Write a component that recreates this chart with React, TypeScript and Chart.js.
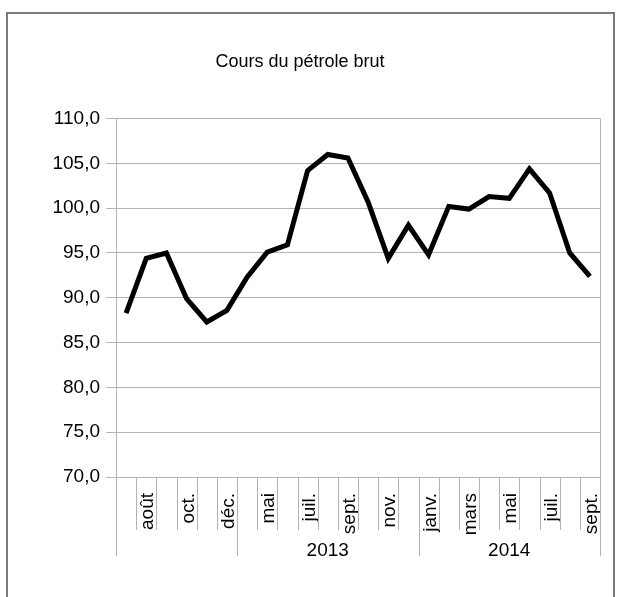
import React, { useEffect, useRef } from 'react';
import { Chart, registerables } from 'chart.js';

Chart.register(...registerables);

const title = 'Cours du pétrole brut';

const months = [
  'juil.', 'août', 'sept.', 'oct.', 'nov.', 'déc.',
  'avr.', 'mai', 'juin', 'juil.', 'août', 'sept.', 'oct.', 'nov.', 'déc.',
  'janv.', 'févr.', 'mars', 'avr.', 'mai', 'juin', 'juil.', 'août', 'sept.',
];

const yearLabels = ['', '2013', '2014'];
const yearSpans = [6, 9, 9];

const prices = [
  88.3, 94.4, 95.0, 89.9, 87.3, 88.6,
  92.3, 95.1, 95.9, 104.2, 106.0, 105.6, 100.7, 94.4, 98.1,
  94.8, 100.2, 99.9, 101.3, 101.1, 104.4, 101.7, 95.0, 92.4,
];

const yMin = 70;
const yMax = 110;
const yStep = 5;

const FONT = "'Liberation Sans', Arial, sans-serif";
const GRID = '#b3b3b3';

const decorPlugin = {
  id: 'decor',
  beforeDraw(chart: any) {
    const { ctx, width, height } = chart;
    ctx.save();
    ctx.strokeStyle = '#7a7a7a';
    ctx.lineWidth = 2;
    ctx.beginPath();
    ctx.moveTo(7, height);
    ctx.lineTo(7, 13);
    ctx.lineTo(width - 10, 13);
    ctx.lineTo(width - 10, height);
    ctx.stroke();
    ctx.restore();
  },
  afterDraw(chart: any) {
    const { ctx, chartArea } = chart;
    const x = chart.scales.x;
    const n = months.length;
    const bounds = new Set<number>([0]);
    let acc = 0;
    yearSpans.forEach((s) => { acc += s; bounds.add(acc); });
    ctx.save();
    ctx.strokeStyle = GRID;
    ctx.lineWidth = 1;
    const bottom = chartArea.bottom;
    for (let i = 0; i <= n; i++) {
      const px = Math.round(x.getPixelForValue(i - 0.5)) + 0.5;
      const isGroup = bounds.has(i);
      const isEdge = i === 0 || i === n;
      const y0 = isEdge ? chartArea.top : bottom;
      const y1 = bottom + (isGroup ? 79 : 53);
      ctx.beginPath();
      ctx.moveTo(px, y0);
      ctx.lineTo(px, y1);
      ctx.stroke();
    }
    ctx.fillStyle = '#000';
    ctx.font = `19px ${FONT}`;
    ctx.textAlign = 'center';
    ctx.textBaseline = 'middle';
    let start = 0;
    yearSpans.forEach((s, gi) => {
      const a = x.getPixelForValue(start - 0.5);
      const b = x.getPixelForValue(start + s - 0.5);
      if (yearLabels[gi]) ctx.fillText(yearLabels[gi], (a + b) / 2, bottom + 74);
      start += s;
    });
    ctx.restore();
  },
};

export default function App() {
  const ref = useRef<HTMLCanvasElement | null>(null);
  useEffect(() => {
    if (!ref.current) return;
    const chart = new Chart(ref.current, {
      type: 'line',
      data: {
        labels: months,
        datasets: [
          {
            data: prices,
            borderColor: '#000',
            borderWidth: 5,
            borderJoinStyle: 'miter',
            borderCapStyle: 'butt',
            pointRadius: 0,
            tension: 0,
            fill: false,
          },
        ],
      },
      options: {
        responsive: false,
        animation: false,
        events: [],
        layout: { padding: { left: 0, right: 24, top: 0, bottom: 0 } },
        plugins: {
          legend: { display: false },
          tooltip: { enabled: false },
          title: {
            display: true,
            text: title,
            color: '#000',
            font: { family: FONT, size: 18, weight: 'normal' },
            padding: { top: 51, bottom: 46 },
          },
        },
        scales: {
          x: {
            type: 'category',
            offset: true,
            afterFit: (s: any) => { s.height = 120; s.paddingLeft = 0; s.paddingRight = 0; },
            grid: { display: true, drawOnChartArea: false, drawTicks: false, offset: true },
            border: { display: true, color: GRID, width: 1 },
            ticks: {
              autoSkip: false,
              maxRotation: 90,
              minRotation: 90,
              padding: 16,
              labelOffset: 2,
              color: '#000',
              font: { family: FONT, size: 19 },
              callback: (_v: any, i: number) => (i % 2 === 1 ? months[i] : ''),
            },
          },
          y: {
            min: yMin,
            max: yMax,
            afterFit: (s: any) => { s.width = 116; },
            grid: { color: GRID, lineWidth: 1, tickLength: 10 },
            border: { display: true, color: GRID, width: 1 },
            ticks: {
              stepSize: yStep,
              padding: 6,
              color: '#000',
              font: { family: FONT, size: 19 },
              callback: (v: any) => Number(v).toFixed(1).replace('.', ','),
            },
          },
        },
      },
      plugins: [decorPlugin],
    });
    return () => chart.destroy();
  }, []);
  return (
    <div style={{ position: 'absolute', left: 0, top: 0, width: 624, height: 597, background: '#fff' }}>
      <canvas ref={ref} width={624} height={597} />
    </div>
  );
}
